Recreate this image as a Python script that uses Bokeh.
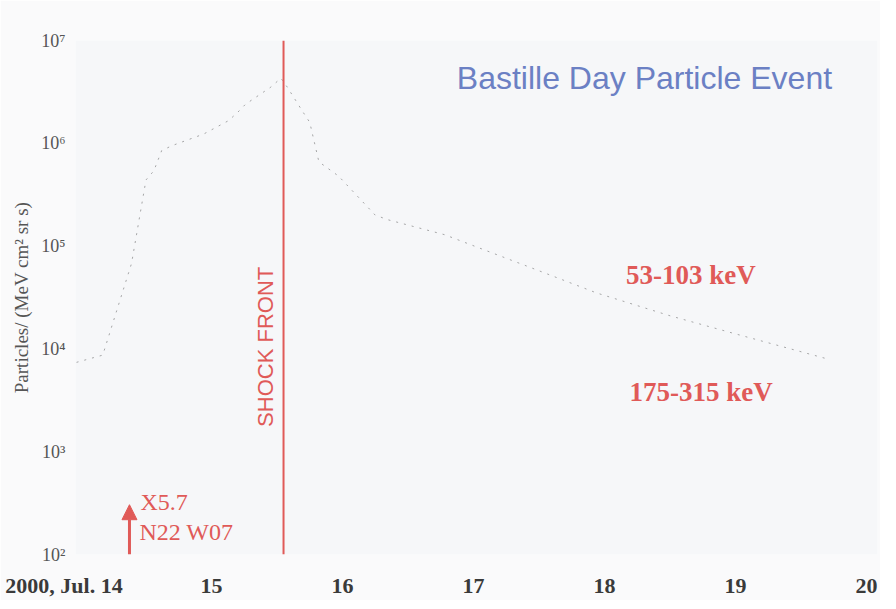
from bokeh.plotting import figure
from bokeh.models import Range1d, FixedTicker, Span, Label, Arrow, NormalHead
from bokeh.embed import file_html
from bokeh.resources import INLINE

# ---- data (days of July 2000, particle flux) ----
day = [13.97, 14.17, 14.39, 14.50, 14.56, 14.62, 14.70, 14.94, 15.13, 15.20,
       15.26, 15.45, 15.53, 15.58, 15.70, 15.75, 15.82, 15.97, 16.25, 16.35,
       16.78, 17.30, 17.42, 17.94, 18.50, 19.00, 19.70]
flux_53_103 = [7400, 8700, 68000, 440000, 540000, 850000, 950000, 1230000,
               1660000, 2000000, 2400000, 3500000, 4300000, 3500000, 2000000,
               1600000, 660000, 480000, 200000, 180000, 129000, 72000, 63000,
               35000, 21000, 14000, 8000]

x_ticks = [14, 15, 16, 17, 18, 19, 20]
x_tick_labels = ["2000, Jul. 14" + "\u00a0" * 6, "15", "16", "17", "18", "19", "20"]
y_ticks = [1e2, 1e3, 1e4, 1e5, 1e6, 1e7]
y_tick_labels = ["10\u00b2", "10\u00b3", "10\u2074", "10\u2075", "10\u2076", "10\u2077"]

flare_time = 14.374
flare_top = 305
shock_time = 15.55
title_text = "Bastille Day Particle Event"
band_labels = ["53-103 keV", "175-315 keV"]
band_label_x = [18.66, 18.737]
band_label_y = [52000, 3830]

RED = "#e05a58"

p = figure(width=880, height=600, y_axis_type="log",
           x_range=Range1d(13.962, 20.084), y_range=Range1d(1e2, 1e7),
           output_backend="svg", toolbar_location=None,
           min_border_left=75, min_border_right=3,
           min_border_top=40, min_border_bottom=45)
p.background_fill_color = "#f6f7f9"
p.border_fill_color = "#fafafb"
p.outline_line_color = None
p.grid.visible = False

# axes
p.xaxis.ticker = FixedTicker(ticks=x_ticks)
p.xaxis.major_label_overrides = {t: l for t, l in zip(x_ticks, x_tick_labels)}
p.xaxis.axis_line_color = None
p.xaxis.major_tick_line_color = None
p.xaxis.minor_tick_line_color = None
p.xaxis.major_label_text_font = "Liberation Serif"
p.xaxis.major_label_text_font_style = "bold"
p.xaxis.major_label_text_font_size = "22px"
p.xaxis.major_label_text_color = "#3a3a3a"
p.xaxis.major_label_standoff = 12

p.yaxis.ticker = FixedTicker(ticks=y_ticks)
p.yaxis.major_label_overrides = {t: l for t, l in zip(y_ticks, y_tick_labels)}
p.yaxis.axis_line_color = None
p.yaxis.major_tick_line_color = None
p.yaxis.minor_tick_line_color = None
p.yaxis.major_label_text_font = "Liberation Serif"
p.yaxis.major_label_text_font_size = "18px"
p.yaxis.major_label_text_color = "#555555"
p.yaxis.major_label_standoff = 4
p.yaxis.axis_label = "Particles/ (MeV cm\u00b2 sr s)"
p.yaxis.axis_label_text_font = "Liberation Serif"
p.yaxis.axis_label_text_font_style = "normal"
p.yaxis.axis_label_text_font_size = "19px"
p.yaxis.axis_label_text_color = "#555555"
p.yaxis.axis_label_standoff = 6

# data line (faint, scanned look)
p.line(day, flux_53_103, line_color="#555555", line_alpha=0.5,
       line_width=1, line_dash="2 6")

# shock front
p.add_layout(Span(location=shock_time, dimension="height",
                  line_color=RED, line_width=2))
p.add_layout(Label(x=shock_time, y=10**4.02, x_offset=-18, text="SHOCK FRONT",
                   angle=90, angle_units="deg", text_align="center",
                   text_baseline="middle", text_color=RED,
                   text_font="Liberation Sans", text_font_size="22px"))

# flare arrow
p.add_layout(Arrow(x_start=flare_time, y_start=1e2, x_end=flare_time, y_end=flare_top,
                   line_color=RED, line_width=3,
                   end=NormalHead(size=15, fill_color=RED, line_color=RED)))
p.add_layout(Label(x=flare_time, y=327, x_offset=11, text="X5.7",
                   text_baseline="middle", text_color=RED,
                   text_font="Liberation Serif", text_font_size="24px"))
p.add_layout(Label(x=flare_time, y=167, x_offset=10, text="N22 W07",
                   text_baseline="middle", text_color=RED,
                   text_font="Liberation Serif", text_font_size="24px"))

# title
p.add_layout(Label(x=18.305, y=10**6.64, text=title_text, text_align="center",
                   text_baseline="middle", text_color="#6b80c4",
                   text_font="Liberation Sans", text_font_size="32px"))

# energy band labels
for t, bx, by in zip(band_labels, band_label_x, band_label_y):
    p.add_layout(Label(x=bx, y=by, text=t, text_align="center",
                       text_baseline="middle", text_color=RED,
                       text_font="Liberation Serif", text_font_style="bold",
                       text_font_size="27px"))

open("out.html", "w").write(file_html(p, INLINE))
